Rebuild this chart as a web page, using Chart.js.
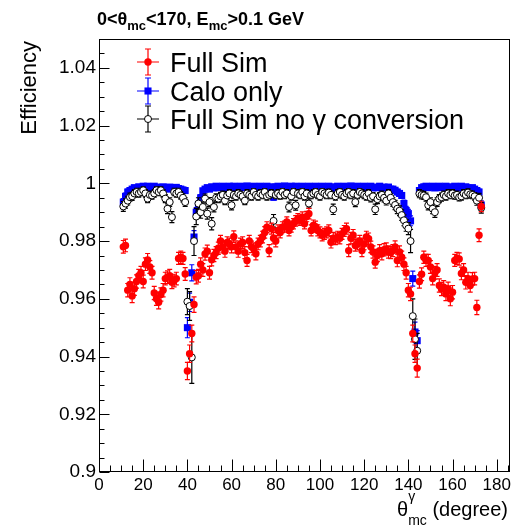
<!DOCTYPE html>
<html>
<head>
<meta charset="utf-8">
<script src="https://cdn.jsdelivr.net/npm/chart.js@4.4.1/dist/chart.umd.min.js"></script>
<style>
  html, body { margin: 0; padding: 0; background: #fff; }
  #wrap { position: relative; width: 532px; height: 530px; font-family: 'Liberation Sans', Arial, sans-serif; color: #000; }
  #chart { position: absolute; left: 0; top: 0; }
  .lbl { position: absolute; white-space: nowrap; line-height: 1; }
  .sb { font-size: 13px; position: relative; top: 5px; }
  .sup { font-size: 14px; position: relative; top: -15px; }
  .sub { font-size: 14px; position: relative; top: 9px; margin-left: -7px; }
</style>
</head>
<body>
<div id="wrap">
  <canvas id="chart" width="532" height="530"></canvas>
  <div class="lbl" id="title" style="left:97px;top:10px;font-weight:bold;font-size:18px">0&lt;θ<span class="sb">mc</span>&lt;170, E<span class="sb">mc</span>&gt;0.1 GeV</div>
  <div class="lbl" id="ytitle" style="left:0;top:0;width:300px;text-align:right;font-size:22px;transform-origin:0 0;transform:translate(18px,341px) rotate(-90deg)">Efficiency</div>
  <div class="lbl" id="xtitle" style="right:24px;top:499px;font-size:20px">θ<span class="sup">γ</span><span class="sub">mc</span> (degree)</div>
</div>
<script>
// bin centres (degree)
const theta = [
  11, 12, 13, 14, 15, 16, 17, 18, 19, 20,
  21, 22, 23, 24, 25, 26, 27, 28, 29, 30,
  31, 32, 33, 34, 35, 36, 37, 38, 39, 40,
  41, 42, 43, 44, 45, 46, 47, 48, 49, 50,
  51, 52, 53, 54, 55, 56, 57, 58, 59, 60,
  61, 62, 63, 64, 65, 66, 67, 68, 69, 70,
  71, 72, 73, 74, 75, 76, 77, 78, 79, 80,
  81, 82, 83, 84, 85, 86, 87, 88, 89, 90,
  91, 92, 93, 94, 95, 96, 97, 98, 99, 100,
  101, 102, 103, 104, 105, 106, 107, 108, 109, 110,
  111, 112, 113, 114, 115, 116, 117, 118, 119, 120,
  121, 122, 123, 124, 125, 126, 127, 128, 129, 130,
  131, 132, 133, 134, 135, 136, 137, 138, 139, 140,
  141, 142, 143, 144, 145, 146, 147, 148, 149, 150,
  151, 152, 153, 154, 155, 156, 157, 158, 159, 160,
  161, 162, 163, 164, 165, 166, 167, 168, 169, 170,
  171, 172, 173
];

const legendLabels = ['Full Sim', 'Calo only', 'Full Sim no \u03b3 conversion'];

const fullSim = [
  0.978, 0.9785, 0.963, 0.965, 0.961, 0.9635, 0.966, 0.968, 0.969, 0.966,
  0.972, 0.9735, 0.971, 0.969, 0.962, 0.960, 0.9588, 0.9615, 0.963, 0.967,
  0.9675, 0.968, 0.9657, 0.9663, 0.967, 0.974, 0.9744, 0.974, 0.9686, 0.935,
  0.941, 0.948, 0.958, 0.9675, 0.968, 0.972, 0.970, 0.9755, 0.9765, 0.969,
  0.9735, 0.975, 0.976, 0.9775, 0.980, 0.978, 0.9765, 0.9795, 0.979, 0.978,
  0.9815, 0.978, 0.9765, 0.979, 0.9795, 0.976, 0.9733, 0.980, 0.978, 0.9773,
  0.9756, 0.979, 0.980, 0.9814, 0.983, 0.9848, 0.9767, 0.9843, 0.981, 0.980,
  0.9837, 0.983, 0.9848, 0.985, 0.9866, 0.9837, 0.985, 0.986, 0.987, 0.9877,
  0.9872, 0.9883, 0.986, 0.9885, 0.9895, 0.9837, 0.9854, 0.985, 0.9837, 0.983,
  0.982, 0.9825, 0.983, 0.9837, 0.9796, 0.981, 0.9808, 0.9814, 0.981, 0.9825,
  0.9835, 0.9843, 0.9767, 0.981, 0.982, 0.9785, 0.979, 0.980, 0.9767, 0.979,
  0.9814, 0.9808, 0.978, 0.9762, 0.9727, 0.975, 0.9767, 0.9756, 0.977, 0.9773,
  0.9762, 0.976, 0.9767, 0.978, 0.9733, 0.9762, 0.9744, 0.972, 0.969, 0.963,
  0.9617, 0.948, 0.941, 0.936, 0.966, 0.9685, 0.9744, 0.9733, 0.9733, 0.971,
  0.967, 0.969, 0.970, 0.9646, 0.9634, 0.964, 0.9617, 0.9635, 0.960, 0.9623,
  0.9733, 0.974, 0.9738, 0.9688, 0.970, 0.9657, 0.967, 0.9646, 0.9669, 0.967,
  0.957, 0.982, 0.992
];
const fullSimErr = [
  .0022, .0022, .0023, .0023, .0023, .0023, .0023, .0022, .0022, .0022,
  .0022, .0022, .0022, .0022, .0023, .0023, .0023, .0023, .0023, .0022,
  .0022, .0022, .0022, .0022, .0022, .0021, .0021, .0021, .0022, .0030,
  .0030, .0029, .0027, .0023, .0022, .0022, .0022, .0021, .0021, .0022,
  .0021, .0021, .0021, .0021, .0020, .0021, .0021, .0020, .0020, .0021,
  .0020, .0021, .0021, .0020, .0020, .0021, .0021, .0020, .0020, .0021,
  .0021, .0020, .0020, .0020, .0020, .0019, .0021, .0019, .0020, .0020,
  .0019, .0019, .0019, .0019, .0018, .0019, .0019, .0018, .0018, .0018,
  .0018, .0018, .0018, .0018, .0018, .0019, .0019, .0019, .0019, .0019,
  .0019, .0019, .0019, .0019, .0020, .0020, .0020, .0020, .0020, .0019,
  .0019, .0019, .0021, .0020, .0020, .0020, .0020, .0020, .0021, .0020,
  .0020, .0020, .0020, .0021, .0021, .0021, .0021, .0021, .0021, .0021,
  .0021, .0021, .0021, .0021, .0022, .0021, .0021, .0022, .0022, .0023,
  .0023, .0029, .0030, .0031, .0023, .0022, .0021, .0021, .0021, .0022,
  .0022, .0022, .0022, .0023, .0023, .0023, .0023, .0023, .0024, .0023,
  .0021, .0021, .0021, .0022, .0022, .0023, .0022, .0023, .0022, .0022,
  .0025, .0022, .0018
];

const caloOnly = [
  0.9935, 0.9955, 0.997, 0.9975, 0.998, 0.9985, 0.998, 0.9988, 0.9984, 0.999,
  0.9986, 0.999, 0.9988, 0.9983, 0.999, 0.9987, 0.9984, 0.998, 0.9988, 0.9985,
  0.998, 0.9987, 0.9984, 0.998, 0.9986, 0.9982, 0.998, 0.9977, 0.9975, 0.950,
  0.9588, 0.969, 0.9814, 0.990, 0.9925, 0.995, 0.9974, 0.998, 0.9985, 0.998,
  0.9988, 0.9984, 0.999, 0.9985, 0.9987, 0.999, 0.9983, 0.9988, 0.999, 0.9985,
  0.999, 0.9987, 0.9984, 0.999, 0.9988, 0.9985, 0.9991, 0.9987, 0.9984, 0.999,
  0.9988, 0.9984, 0.999, 0.9987, 0.9985, 0.999, 0.9984, 0.9988, 0.9952, 0.9987,
  0.999, 0.9985, 0.9988, 0.9991, 0.9984, 0.9988, 0.999, 0.9985, 0.999, 0.9987,
  0.9985, 0.999, 0.9988, 0.9984, 0.999, 0.9987, 0.9985, 0.999, 0.9988, 0.9984,
  0.999, 0.9985, 0.9988, 0.999, 0.9984, 0.9975, 0.9988, 0.999, 0.9985, 0.9987,
  0.999, 0.9984, 0.9988, 0.9991, 0.9985, 0.9987, 0.999, 0.9984, 0.9988, 0.999,
  0.9985, 0.9988, 0.999, 0.9984, 0.9987, 0.9985, 0.999, 0.9984, 0.9987, 0.9985,
  0.9987, 0.998, 0.998, 0.9976, 0.997, 0.9965, 0.9958, 0.993, 0.9906, 0.9895,
  0.987, 0.967, 0.9485, 0.9455, 0.9975, 0.9985, 0.9988, 0.999, 0.9985, 0.9988,
  0.999, 0.9984, 0.9988, 0.999, 0.9985, 0.9987, 0.999, 0.9984, 0.9988, 0.9985,
  0.999, 0.9987, 0.9984, 0.999, 0.9985, 0.9988, 0.9984, 0.998, 0.9985, 0.998,
  0.9975, 0.997, 0.9925
];
const caloOnlyErr = [
  .0012, .0011, .0010, .0009, .0009, .0008, .0008, .0008, .0008, .0008,
  .0008, .0008, .0008, .0008, .0008, .0008, .0008, .0008, .0008, .0008,
  .0008, .0008, .0008, .0008, .0008, .0008, .0008, .0009, .0009, .0035,
  .0032, .0028, .0022, .0016, .0013, .0011, .0009, .0008, .0008, .0008,
  .0008, .0008, .0007, .0008, .0008, .0007, .0008, .0008, .0007, .0008,
  .0007, .0008, .0008, .0007, .0008, .0008, .0007, .0008, .0008, .0007,
  .0008, .0008, .0007, .0008, .0008, .0007, .0008, .0008, .0010, .0008,
  .0007, .0008, .0008, .0007, .0008, .0008, .0007, .0008, .0007, .0008,
  .0008, .0007, .0008, .0008, .0007, .0008, .0008, .0007, .0008, .0008,
  .0007, .0008, .0008, .0007, .0008, .0010, .0008, .0007, .0008, .0008,
  .0007, .0008, .0008, .0007, .0008, .0008, .0007, .0008, .0008, .0007,
  .0008, .0008, .0007, .0008, .0008, .0008, .0007, .0008, .0008, .0008,
  .0008, .0008, .0008, .0009, .0009, .0010, .0010, .0012, .0014, .0015,
  .0017, .0026, .0034, .0035, .0009, .0008, .0008, .0008, .0008, .0008,
  .0008, .0008, .0008, .0007, .0008, .0008, .0007, .0008, .0008, .0008,
  .0008, .0008, .0008, .0008, .0008, .0008, .0008, .0009, .0008, .0009,
  .0009, .0010, .0014
];

const noConv = [
  0.992, 0.993, 0.994, 0.9952, 0.9955, 0.9965, 0.997, 0.9965, 0.997, 0.9976,
  0.9965, 0.9947, 0.996, 0.9958, 0.9965, 0.9976, 0.997, 0.9976, 0.9965, 0.9947,
  0.9912, 0.9935, 0.9883, 0.997, 0.9965, 0.997, 0.9958, 0.995, 0.9935, 0.959,
  0.9575, 0.9397, 0.980, 0.9885, 0.993, 0.990, 0.9918, 0.9947, 0.9895, 0.9935,
  0.986, 0.9918, 0.995, 0.9947, 0.9955, 0.996, 0.994, 0.9958, 0.9965, 0.9924,
  0.996, 0.9955, 0.9965, 0.996, 0.9955, 0.994, 0.9965, 0.996, 0.9955, 0.997,
  0.996, 0.9955, 0.9965, 0.996, 0.997, 0.9955, 0.996, 0.9965, 0.987, 0.996,
  0.9965, 0.9958, 0.997, 0.996, 0.9965, 0.9918, 0.9955, 0.997, 0.9924, 0.9965,
  0.996, 0.997, 0.9955, 0.9965, 0.993, 0.996, 0.9965, 0.997, 0.996, 0.9955,
  0.997, 0.9965, 0.996, 0.9968, 0.996, 0.991, 0.9955, 0.9965, 0.997, 0.996,
  0.9955, 0.9965, 0.997, 0.996, 0.9965, 0.9935, 0.996, 0.997, 0.9965, 0.996,
  0.9955, 0.9965, 0.995, 0.9955, 0.991, 0.9945, 0.9955, 0.996, 0.995, 0.994,
  0.9965, 0.995, 0.9935, 0.9925, 0.9912, 0.9905, 0.989, 0.9872, 0.9854, 0.9843,
  0.980, 0.954, 0.946, 0.942, 0.9964, 0.996, 0.9958, 0.9952, 0.9924, 0.9935,
  0.9912, 0.990, 0.9935, 0.9947, 0.9952, 0.996, 0.9955, 0.9965, 0.996, 0.9965,
  0.9958, 0.996, 0.9952, 0.9955, 0.9965, 0.996, 0.9968, 0.9962, 0.996, 0.9955,
  0.994, 0.995, 0.9915
];
const noConvErr = [
  .0017, .0016, .0015, .0014, .0014, .0013, .0013, .0013, .0013, .0012,
  .0013, .0014, .0013, .0013, .0013, .0012, .0013, .0012, .0013, .0014,
  .0017, .0015, .0019, .0013, .0013, .0013, .0013, .0014, .0015, .0045,
  .0050, .0090, .0050, .0028, .0020, .0021, .0018, .0016, .0019, .0016,
  .0021, .0017, .0014, .0014, .0014, .0013, .0014, .0013, .0013, .0016,
  .0013, .0013, .0013, .0013, .0013, .0014, .0013, .0013, .0013, .0012,
  .0013, .0013, .0013, .0013, .0012, .0013, .0013, .0013, .0022, .0013,
  .0013, .0013, .0012, .0013, .0013, .0017, .0013, .0012, .0017, .0013,
  .0013, .0012, .0013, .0013, .0016, .0013, .0013, .0012, .0013, .0013,
  .0012, .0013, .0013, .0012, .0013, .0018, .0013, .0013, .0012, .0013,
  .0013, .0013, .0012, .0013, .0013, .0016, .0013, .0012, .0013, .0013,
  .0013, .0013, .0014, .0013, .0018, .0015, .0013, .0013, .0014, .0015,
  .0013, .0014, .0015, .0016, .0017, .0017, .0018, .0019, .0020, .0021,
  .0040, .0060, .0070, .0060, .0014, .0014, .0014, .0014, .0016, .0015,
  .0017, .0018, .0015, .0014, .0014, .0013, .0013, .0013, .0013, .0013,
  .0013, .0013, .0013, .0013, .0013, .0013, .0013, .0013, .0013, .0013,
  .0016, .0015, .0018
];

const xTicks = [0, 20, 40, 60, 80, 100, 120, 140, 160, 180];
const yTicks = [0.9, 0.92, 0.94, 0.96, 0.98, 1, 1.02, 1.04];

const FONT = "'Liberation Sans', Arial, sans-serif";

function toPoints(vals) {
  return theta.map((t, i) => ({ x: t, y: vals[i] }));
}

function drawMarker(c, style, x, y, r, fill, stroke) {
  c.beginPath();
  if (style === 'rect') {
    const s = r * Math.SQRT1_2;
    c.rect(x - s, y - s, 2 * s, 2 * s);
  } else {
    c.arc(x, y, r, 0, Math.PI * 2);
  }
  c.fillStyle = fill;
  c.fill();
  if (stroke) { c.lineWidth = 1; c.strokeStyle = stroke; c.stroke(); }
}

// vertical error bars with small caps, drawn just under each dataset's markers
const errorBars = {
  id: 'errorBars',
  beforeDatasetDraw(chart, args) {
    const ds = chart.data.datasets[args.index];
    const ys = chart.scales.y;
    const c = chart.ctx;
    c.save();
    c.strokeStyle = ds.barColor;
    c.lineWidth = 1.2;
    args.meta.data.forEach((pt, i) => {
      const v = ds.data[i].y, e = ds.errors[i];
      const y1 = ys.getPixelForValue(v - e);
      const y2 = ys.getPixelForValue(v + e);
      c.beginPath();
      c.moveTo(pt.x, y1); c.lineTo(pt.x, y2);
      c.moveTo(pt.x - 2.5, y1); c.lineTo(pt.x + 2.5, y1);
      c.moveTo(pt.x - 2.5, y2); c.lineTo(pt.x + 2.5, y2);
      c.stroke();
    });
    c.restore();
  }
};

// ROOT style frame with ticks pointing inwards, and the legend box
const rootFrame = {
  id: 'rootFrame',
  afterDraw(chart) {
    const c = chart.ctx, a = chart.chartArea;
    const xs = chart.scales.x, ys = chart.scales.y;
    const L = Math.round(a.left) + 0.5, R = Math.round(a.right) - 0.5;
    const T = Math.round(a.top) + 0.5, B = Math.round(a.bottom) - 0.5;
    c.save();
    c.strokeStyle = '#000';
    c.lineWidth = 1;
    c.strokeRect(L, T, R - L, B - T);

    c.beginPath();
    for (let v = xs.min; v <= xs.max; v += 5) {
      const px = Math.round(xs.getPixelForValue(v)) + 0.5;
      const len = (v % 20 === 0) ? 12 : 6;
      c.moveTo(px, B); c.lineTo(px, B - len);
    }
    for (let k = 0; k <= 30; k++) {
      const v = 0.9 + k * 0.005;
      if (v > ys.max + 1e-9) break;
      const py = Math.round(ys.getPixelForValue(v)) + 0.5;
      const len = (k % 4 === 0) ? 10 : 5;
      c.moveTo(L, py); c.lineTo(L + len, py);
    }
    c.stroke();

    // legend
    const rows = [62, 91, 119];
    chart.data.datasets.forEach((ds, i) => {
      const cx = 148, cy = rows[i];
      c.strokeStyle = ds.barColor;
      c.lineWidth = 1.2;
      c.beginPath();
      c.moveTo(cx - 11, cy); c.lineTo(cx + 11, cy);
      c.moveTo(cx, cy - 13); c.lineTo(cx, cy + 13);
      c.moveTo(cx - 3, cy - 13); c.lineTo(cx + 3, cy - 13);
      c.moveTo(cx - 3, cy + 13); c.lineTo(cx + 3, cy + 13);
      c.stroke();
      drawMarker(c, ds.pointStyle, cx, cy, ds.pointRadius, ds.pointBackgroundColor,
                 ds.pointBorderWidth ? ds.pointBorderColor : null);
      c.fillStyle = '#000';
      c.font = '27px ' + FONT;
      c.textBaseline = 'alphabetic';
      c.textAlign = 'left';
      c.fillText(legendLabels[i], 170, cy + 10);
    });
    c.restore();
  }
};

const ctx = document.getElementById('chart').getContext('2d');
new Chart(ctx, {
  type: 'scatter',
  data: {
    datasets: [
      {
        label: legendLabels[0], data: toPoints(fullSim), errors: fullSimErr, barColor: '#ff0000',
        pointStyle: 'circle', pointRadius: 3.7, pointBorderWidth: 0,
        pointBackgroundColor: '#ff0000', pointBorderColor: '#ff0000', order: 0
      },
      {
        label: legendLabels[1], data: toPoints(caloOnly), errors: caloOnlyErr, barColor: '#0000ff',
        pointStyle: 'rect', pointRadius: 5, pointBorderWidth: 0,
        pointBackgroundColor: '#0000ff', pointBorderColor: '#0000ff', order: 2
      },
      {
        label: legendLabels[2], data: toPoints(noConv), errors: noConvErr, barColor: '#000000',
        pointStyle: 'circle', pointRadius: 3.5, pointBorderWidth: 1,
        pointBackgroundColor: '#ffffff', pointBorderColor: '#000000', order: 1
      }
    ]
  },
  options: {
    responsive: false,
    animation: false,
    events: [],
    layout: { padding: { top: 39, right: 22, left: 0, bottom: 0 } },
    plugins: { legend: { display: false }, tooltip: { enabled: false } },
    scales: {
      x: {
        type: 'linear', min: 0, max: 186,
        afterBuildTicks: (s) => { s.ticks = xTicks.map(v => ({ value: v })); },
        afterFit: (s) => { s.height = 58; },
        grid: { display: false, drawTicks: false },
        border: { display: false },
        ticks: { color: '#000', font: { family: FONT, size: 17 }, padding: 3, maxRotation: 0, autoSkip: false }
      },
      y: {
        type: 'linear', min: 0.9, max: 1.05,
        afterBuildTicks: (s) => { s.ticks = yTicks.map(v => ({ value: v })); },
        afterFit: (s) => { s.width = 99; },
        grid: { display: false, drawTicks: false },
        border: { display: false },
        ticks: {
          color: '#000', font: { family: FONT, size: 19 }, padding: 3, autoSkip: false,
          callback: (v) => String(+Number(v).toFixed(2))
        }
      }
    }
  },
  plugins: [errorBars, rootFrame]
});
</script>
</body>
</html>
